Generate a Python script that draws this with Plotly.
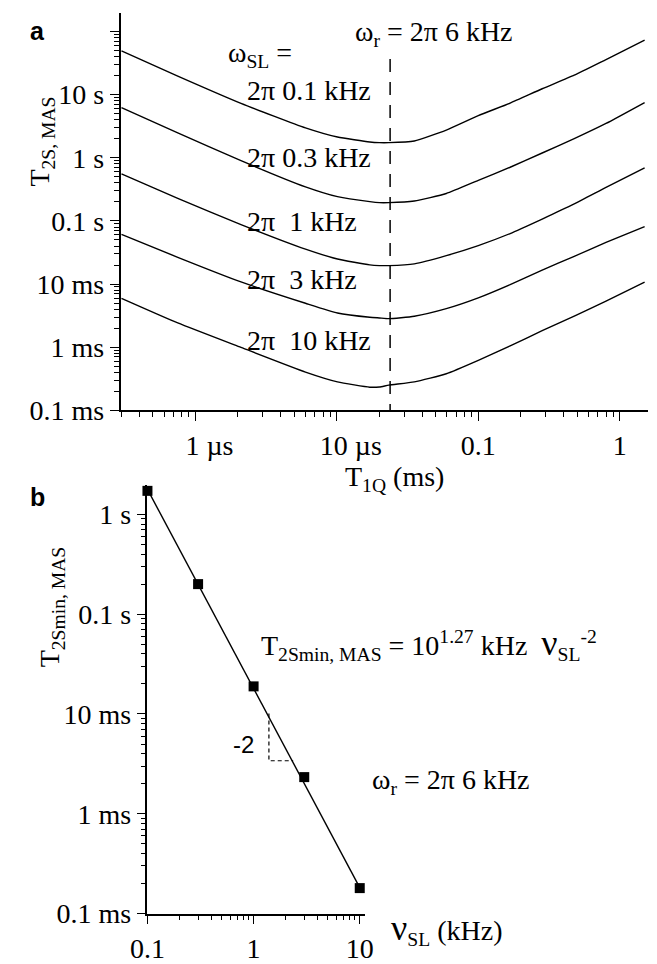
import plotly.graph_objects as go

# ---------------- data: panel a ----------------
T1Q_ms = [0.0003, 0.00075, 0.0021, 0.006, 0.0101, 0.0171, 0.020, 0.0233,
          0.0353, 0.0594, 0.1, 0.168, 0.283, 0.477, 0.80, 1.50]
T2S_0p1kHz = [49400, 19700, 7290, 2978, 2130, 1778, 1738, 1738,
              1845, 2750, 4650, 7350, 12400, 20300, 36000, 73000]
T2S_0p3kHz = [6240, 2488, 900, 346, 242, 202, 195, 195,
              207, 272, 439, 708, 1190, 2010, 3500, 7500]
T2S_1kHz = [558, 228, 87.5, 35.7, 24.9, 20.1, 19.6, 19.6,
            20.9, 28.2, 40.7, 63.1, 107, 186, 339, 692]
T2S_3kHz = [61.1, 26.5, 10.8, 4.96, 3.47, 2.97, 2.90, 2.83,
            3.09, 4.07, 6.03, 9.77, 16.6, 27.5, 45.7, 81.3]
T2S_10kHz = [5.94, 2.42, 0.99, 0.403, 0.282, 0.232, 0.234, 0.250,
             0.282, 0.379, 0.618, 1.05, 1.82, 3.10, 5.38, 10.7]
curves_a = [T2S_0p1kHz, T2S_0p3kHz, T2S_1kHz, T2S_3kHz, T2S_10kHz]
curve_labels = ["2π 0.1 kHz", "2π 0.3 kHz", "2π  1 kHz", "2π  3 kHz", "2π  10 kHz"]

rotor_T1Q = [0.0238, 0.0238]
rotor_T2 = [36600, 0.1]

xa_tickvals = [0.001, 0.01, 0.1, 1]
xa_ticktext = ["\u00a0" * 4 + "1 µs", "\u00a0" * 4 + "10 µs", "0.1", "1"]
ya_tickvals = [0.1, 1, 10, 100, 1000, 10000, 100000]
ya_ticktext = ["0.1 ms", "1 ms", "10 ms", "0.1 s", "1 s", "10 s", ""]

# ---------------- data: panel b ----------------
nu_SL_kHz = [0.1, 0.3, 1, 3, 10]
T2Smin_ms = [1720, 200, 18.9, 2.33, 0.18]
fit_nu = [0.1, 10]
fit_T = [1780, 0.182]
slope_nu = [1.394, 1.394, 2.36]
slope_T = [10.1, 3.40, 3.40]

xb_tickvals = [0.1, 1, 10]
xb_ticktext = ["0.1", "1", "10"]
yb_tickvals = [0.1, 1, 10, 100, 1000]
yb_ticktext = ["0.1 ms", "1 ms", "10 ms", "0.1 s", "1 s"]

W, H = 657, 964
SERIF = "Liberation Serif"
SANS = "Liberation Sans"
FS = 28


def minor_vals(lo_exp, hi_exp):
    out = []
    for e in range(lo_exp, hi_exp + 1):
        for m in range(2, 10):
            out.append(m * 10.0 ** e)
    return out


fig = go.Figure()

for vals in curves_a:
    fig.add_trace(go.Scatter(x=T1Q_ms, y=vals, mode="lines",
                             line=dict(color="black", width=1.4, shape="spline", smoothing=0.5),
                             xaxis="x", yaxis="y", showlegend=False))
fig.add_trace(go.Scatter(x=rotor_T1Q, y=rotor_T2, mode="lines",
                         line=dict(color="black", width=1.5, dash="13px,10px"),
                         xaxis="x", yaxis="y", showlegend=False))

fig.add_trace(go.Scatter(x=fit_nu, y=fit_T, mode="lines",
                         line=dict(color="black", width=1.4),
                         xaxis="x2", yaxis="y2", showlegend=False, cliponaxis=False))
fig.add_trace(go.Scatter(x=slope_nu, y=slope_T, mode="lines",
                         line=dict(color="black", width=1.2, dash="4px,3px"),
                         xaxis="x2", yaxis="y2", showlegend=False))
fig.add_trace(go.Scatter(x=nu_SL_kHz, y=T2Smin_ms, mode="markers",
                         marker=dict(symbol="square", size=10, color="black"),
                         xaxis="x2", yaxis="y2", showlegend=False, cliponaxis=False))

axis_common = dict(type="log", showgrid=False, zeroline=False, showline=True,
                   linecolor="black", linewidth=1.5, ticks="outside", ticklen=9,
                   tickwidth=1.3, tickcolor="black",
                   tickfont=dict(family=SERIF, size=FS, color="black"))
minor_common = dict(ticks="outside", ticklen=5, tickwidth=1.1, tickcolor="black", showgrid=False)

fig.update_layout(
    width=W, height=H, margin=dict(l=0, r=0, t=0, b=0),
    paper_bgcolor="white", plot_bgcolor="white", showlegend=False,
    xaxis=dict(axis_common, domain=[107 / W, 1.0], range=[-3.529, 0.2], anchor="y",
               tickmode="array", tickvals=xa_tickvals, ticktext=xa_ticktext,
               minor=dict(minor_common, tickvals=minor_vals(-4, 0))),
    yaxis=dict(axis_common, domain=[1 - 417.2 / H, 1 - 12.8 / H], range=[-1, 5.3], anchor="x",
               tickmode="array", tickvals=ya_tickvals, ticktext=ya_ticktext,
               minor=dict(minor_common, tickvals=minor_vals(-1, 5))),
    xaxis2=dict(axis_common, domain=[135 / W, 361.7 / W], range=[-1, 1.048], anchor="y2",
                tickmode="array", tickvals=xb_tickvals, ticktext=xb_ticktext,
                minor=dict(minor_common, tickvals=minor_vals(-1, 1))),
    yaxis2=dict(axis_common, domain=[1 - 929 / H, 1 - 493 / H], range=[-1, 3.296], anchor="x2",
                tickmode="array", tickvals=yb_tickvals, ticktext=yb_ticktext,
                minor=dict(minor_common, tickvals=minor_vals(-1, 3))),
)


def ann(text, px, py, size=FS, family=SERIF, xanchor="left", angle=0):
    fig.add_annotation(text=text, x=px / W, y=1 - py / H, xref="paper", yref="paper",
                       xanchor=xanchor, yanchor="middle", showarrow=False, textangle=angle,
                       font=dict(family=family, size=size, color="black"))


NU = '<span style="font-size:36px">ν</span>'

# panel a texts
ann("<b>a</b>", 10, 32, size=25, family=SANS)
ann("T<sub>2S, MAS</sub>", 25, 144, xanchor="center", angle=-90)
ann("T<sub>1Q</sub> (ms)", 393, 487, xanchor="center")
ann("ω<sub>SL</sub> =", 217, 55)
label_y = [92, 160, 225, 284, 346]
for lab, yy in zip(curve_labels, label_y):
    ann(lab.replace("  ", "\u00a0\u00a0"), 237, yy)
ann("ω<sub>r</sub> = 2π 6 kHz", 349, 34)

# panel b texts
ann("<b>b</b>", 10, 505, size=25, family=SANS)
ann("T<sub>2Smin, MAS</sub>", 35, 617, xanchor="center", angle=-90)
ann(NU + "<sub>SL</sub> (kHz)", 387, 945)
ann(("T<sub>2Smin, MAS</sub> = 10<sup>1.27</sup> kHz  " + NU + "<sub>SL</sub><sup>-2</sup>").replace("  ", "\u00a0\u00a0"), 251, 655)
ann("ω<sub>r</sub> = 2π 6 kHz", 367, 795)
ann("-2", 235, 757, size=24, family=SANS, xanchor="center")

fig.write_html("out.html")
